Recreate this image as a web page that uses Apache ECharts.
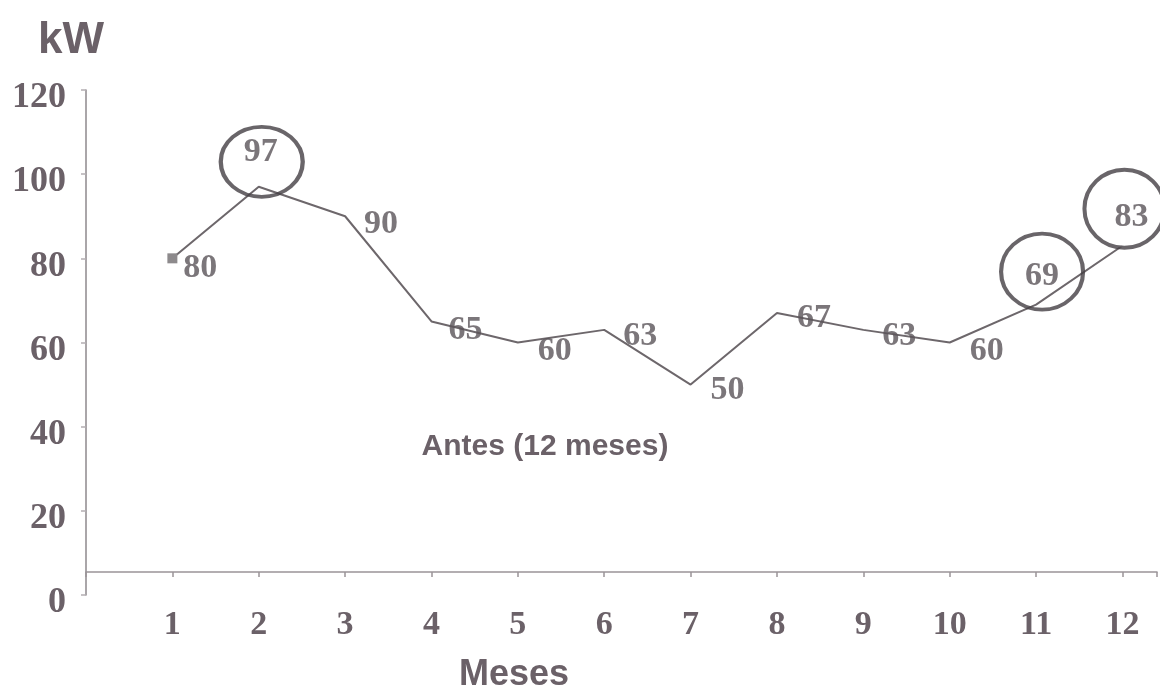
<!DOCTYPE html>
<html>
<head>
<meta charset="utf-8">
<title>kW - Antes (12 meses)</title>
<script src="https://cdn.jsdelivr.net/npm/echarts@6/dist/echarts.min.js"></script>
<style>
  html, body { margin: 0; padding: 0; background: #ffffff; }
  #chart { width: 1160px; height: 690px; }
</style>
</head>
<body>
<div id="chart"></div>
<script>
// Monthly demand (kW), 12 months before the change
var months = [1, 2, 3, 4, 5, 6, 7, 8, 9, 10, 11, 12];
var kw = [80, 97, 90, 65, 60, 63, 50, 67, 63, 60, 69, 83];
var circledMonths = [2, 11, 12];
var yTicks = [0, 20, 40, 60, 80, 100, 120];

// Where each value label sits relative to its point (px)
var labelOffsets = [
  [28, 10], [2, -35], [36, 8], [34, 9], [37, 9], [36, 6],
  [37, 6], [37, 5], [36, 6], [37, 9], [6, -28], [9, -28]
];
// Ring around the highlighted values: offset from point and size
var ringStyle = {
  2:  { offset: [3, -25], size: [82, 70], fill: 'transparent' },
  11: { offset: [6, -33], size: [82, 76], fill: 'transparent' },
  12: { offset: [2, -37], size: [80, 78], fill: '#ffffff' }
};

var textColor = '#6b6168';
var labelColor = '#5a5459';
var serif = '"Liberation Serif", "DejaVu Serif", serif';
var sans = '"Liberation Sans", Arial, sans-serif';

var lineData = months.map(function (m, i) {
  var item = { value: [m, kw[i]] };
  if (i === 0) {
    item.symbol = 'rect';
    item.symbolSize = 10;
    item.itemStyle = { color: '#8d8a8c' };
  } else {
    item.symbol = 'none';
  }
  return item;
});

var labelData = months.map(function (m, i) {
  return {
    value: [m, kw[i]],
    label: { offset: labelOffsets[i] }
  };
});

var ringData = circledMonths.map(function (m) {
  var i = months.indexOf(m);
  var s = ringStyle[m];
  return {
    value: [m, kw[i]],
    symbolOffset: s.offset,
    symbolSize: s.size,
    itemStyle: { color: s.fill }
  };
});

var chart = echarts.init(document.getElementById('chart'));
chart.setOption({
  backgroundColor: '#ffffff',
  animation: false,
  grid: { left: 86, top: 90, width: 1075, height: 505 },
  title: [
    { text: 'kW', left: 33, top: 14,
      textStyle: { fontFamily: sans, fontWeight: 'bold', fontSize: 44, color: textColor } },
    { text: 'Meses', left: 509, top: 652, textAlign: 'center',
      textStyle: { fontFamily: sans, fontWeight: 'bold', fontSize: 36, color: textColor } },
    { text: 'Antes (12 meses)', left: 540, top: 427, textAlign: 'center',
      textStyle: { fontFamily: sans, fontWeight: 'bold', fontSize: 30, color: textColor } }
  ],
  xAxis: {
    type: 'value',
    min: 0,
    max: 12.4,
    interval: 1,
    offset: -23,
    splitLine: { show: false },
    axisLine: { show: true, lineStyle: { color: '#9a9498', width: 1.5 } },
    axisTick: { show: true, length: 5, lineStyle: { color: '#9a9498', width: 1.5 } },
    axisLabel: {
      margin: 36,
      fontFamily: serif,
      fontWeight: 'bold',
      fontSize: 34,
      color: textColor,
      formatter: function (v) {
        return months.indexOf(v) >= 0 ? String(v) : '';
      }
    }
  },
  yAxis: {
    type: 'value',
    min: yTicks[0],
    max: yTicks[yTicks.length - 1],
    interval: 20,
    splitLine: { show: false },
    axisLine: { show: true, lineStyle: { color: '#8e888c', width: 1.5 } },
    axisTick: { show: true, length: 5, lineStyle: { color: '#b4aeb2', width: 1.5 } },
    axisLabel: {
      margin: 20,
      verticalAlign: 'top',
      lineHeight: 16,
      fontFamily: serif,
      fontWeight: 'bold',
      fontSize: 36,
      color: textColor
    }
  },
  series: [
    {
      type: 'line',
      data: lineData,
      z: 2,
      lineStyle: { color: '#6d676b', width: 2 },
      label: { show: false }
    },
    {
      type: 'scatter',
      data: ringData,
      z: 4,
      symbol: 'circle',
      itemStyle: { borderColor: '#443f43', borderWidth: 4 }
    },
    {
      type: 'scatter',
      data: labelData,
      z: 6,
      symbolSize: 1,
      itemStyle: { color: 'transparent' },
      label: {
        show: true,
        position: 'inside',
        fontFamily: serif,
        fontWeight: 'bold',
        fontSize: 34,
        color: labelColor,
        formatter: function (p) { return p.value[1]; }
      }
    }
  ]
});
</script>
</body>
</html>
